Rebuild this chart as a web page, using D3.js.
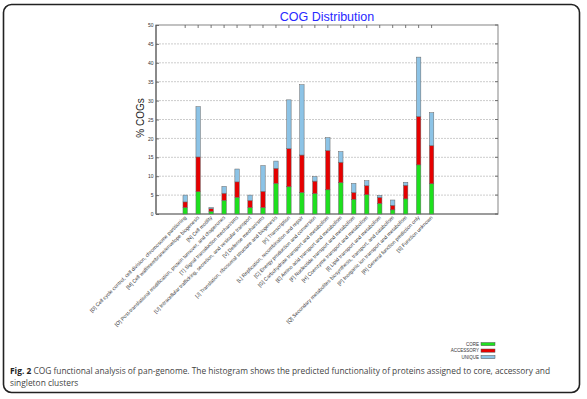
<!DOCTYPE html>
<html>
<head>
<meta charset="utf-8">
<script src="https://cdn.jsdelivr.net/npm/d3@7"></script>
<style>
  body { margin: 0; background: #fff; }
  svg { display: block; }
</style>
</head>
<body>
<div id="chart"></div>
<script>
var categories = [
  "[D] Cell cycle control, cell division, chromosome partitioning",
  "[M] Cell wall/membrane/envelope biogenesis",
  "[N] Cell motility",
  "[O] Post-translational modification, protein turnover, and chaperones",
  "[T] Signal transduction mechanisms",
  "[U] Intracellular trafficking, secretion, and vesicular transport",
  "[V] Defense mechanisms",
  "[J] Translation, ribosomal structure and biogenesis",
  "[K] Transcription",
  "[L] Replication, recombination and repair",
  "[C] Energy production and conversion",
  "[G] Carbohydrate transport and metabolism",
  "[E] Amino acid transport and metabolism",
  "[F] Nucleotide transport and metabolism",
  "[H] Coenzyme transport and metabolism",
  "[I] Lipid transport and metabolism",
  "[Q] Secondary metabolites biosynthesis, transport, and catabolism",
  "[P] Inorganic ion transport and metabolism",
  "[R] General function prediction only",
  "[S] Function unknown"
]
var core      = [1.7, 5.9, 0.7, 3.6, 4.4, 1.7, 1.7, 8.1, 7.2, 5.7, 5.4, 6.4, 8.3, 3.9, 5.1, 2.8, 1.1, 4.0, 13.0, 8.0]
var accessory = [1.5, 9.2, 0.7, 1.9, 4.1, 1.9, 4.3, 4.0, 10.1, 9.9, 3.3, 10.4, 5.4, 1.8, 2.4, 1.6, 1.2, 3.6, 12.8, 10.1]
var unique    = [1.8, 13.3, 0.3, 1.8, 3.4, 1.4, 6.8, 1.9, 12.9, 18.6, 1.2, 3.4, 2.8, 2.4, 1.3, 0.5, 1.4, 0.8, 15.7, 8.7]
var seriesNames = ["CORE", "ACCESSORY", "UNIQUE"]
var yTicks = [0, 5, 10, 15, 20, 25, 30, 35, 40, 45, 50]
var colors = {CORE: "#1ee01e", ACCESSORY: "#e60000", UNIQUE: "#8cc3e6"}

var W = 587, H = 399
var plot = {left: 156, right: 498, top: 25, bottom: 214}

var svg = d3.select("#chart").append("svg")
    .attr("width", W)
    .attr("height", H)

// outer frame
svg.append("rect")
    .attr("x", 3.5).attr("y", 4.5)
    .attr("width", 576).attr("height", 388)
    .attr("rx", 8)
    .attr("fill", "none")
    .attr("stroke", "#222")
    .attr("stroke-width", 1.6)

var x = d3.scaleLinear().domain([-2.25, 24.12]).range([plot.left, plot.right])
var y = d3.scaleLinear().domain([0, 50]).range([plot.bottom, plot.top])

// grid
svg.append("g").selectAll("line")
  .data(yTicks.filter(function(d) { return d > 0 && d < 50 }))
  .enter().append("line")
    .attr("x1", plot.left).attr("x2", plot.right)
    .attr("y1", function(d) { return y(d) }).attr("y2", function(d) { return y(d) })
    .attr("stroke", "#aaa")
    .attr("stroke-width", 0.6)
    .attr("stroke-dasharray", "2,1")

// plot box
svg.append("rect")
    .attr("x", plot.left).attr("y", plot.top)
    .attr("width", plot.right - plot.left).attr("height", plot.bottom - plot.top)
    .attr("fill", "none")
    .attr("stroke", "#999")
    .attr("stroke-width", 1.2)
svg.append("line")
    .attr("x1", plot.left).attr("x2", plot.left)
    .attr("y1", plot.top).attr("y2", plot.bottom)
    .attr("stroke", "#666").attr("stroke-width", 1.2)
svg.append("line")
    .attr("x1", plot.left).attr("x2", plot.right)
    .attr("y1", plot.bottom).attr("y2", plot.bottom)
    .attr("stroke", "#777").attr("stroke-width", 1.2)

// y axis, ticks drawn inward
var yAxis = d3.axisLeft(y).tickValues(yTicks).tickSize(0).tickPadding(2.5)
var gy = svg.append("g")
    .attr("transform", "translate(" + plot.left + ",0)")
    .call(yAxis)
gy.select(".domain").remove()
gy.selectAll("line").attr("stroke", "#555").attr("x2", 3).attr("stroke-width", 0.8)
gy.selectAll("text")
    .attr("font-family", "Liberation Sans, Arial, sans-serif")
    .attr("font-size", 5)
    .attr("fill", "#333")

// right side ticks
svg.append("g").selectAll("line")
  .data(yTicks).enter().append("line")
    .attr("x1", plot.right - 3).attr("x2", plot.right)
    .attr("y1", function(d) { return y(d) }).attr("y2", function(d) { return y(d) })
    .attr("stroke", "#555").attr("stroke-width", 0.8)

// top ticks
var idx = d3.range(categories.length)
svg.append("g").selectAll("line")
  .data(idx).enter().append("line")
    .attr("x1", function(i) { return x(i) }).attr("x2", function(i) { return x(i) })
    .attr("y1", plot.top).attr("y2", plot.top + 3)
    .attr("stroke", "#555").attr("stroke-width", 0.8)

// stacked bars
var rows = idx.map(function(i) {
  return {CORE: core[i], ACCESSORY: accessory[i], UNIQUE: unique[i], i: i}
})
var stack = d3.stack().keys(seriesNames)(rows)
var bw = 4.4
svg.append("g").selectAll("g")
  .data(stack).enter().append("g")
    .attr("fill", function(s) { return colors[s.key] })
  .selectAll("rect")
  .data(function(s) { return s }).enter().append("rect")
    .attr("x", function(d) { return x(d.data.i) - bw / 2 })
    .attr("y", function(d) { return y(d[1]) })
    .attr("width", bw)
    .attr("height", function(d) { return y(d[0]) - y(d[1]) })
    .attr("stroke", "#666")
    .attr("stroke-width", 0.5)

// x labels
svg.append("g").selectAll("text")
  .data(idx).enter().append("text")
    .attr("transform", function(i) { return "translate(" + (x(i) + 1.5) + "," + (plot.bottom + 4) + ") rotate(-45)" })
    .attr("text-anchor", "end")
    .attr("font-family", "Liberation Sans, Arial, sans-serif")
    .attr("font-size", 5.1)
    .attr("fill", "#333")
    .text(function(i) { return categories[i] })

// title
svg.append("text")
    .attr("x", 327).attr("y", 21)
    .attr("text-anchor", "middle")
    .attr("font-family", "Liberation Sans, Arial, sans-serif")
    .attr("font-size", 12.5)
    .attr("fill", "#2828ff")
    .text("COG Distribution")

// y label
svg.append("text")
    .attr("transform", "translate(144,118) rotate(-90)")
    .attr("text-anchor", "middle")
    .attr("font-family", "Liberation Sans, Arial, sans-serif")
    .attr("font-size", 10)
    .attr("fill", "#222")
    .text("% COGs")

// legend
var leg = svg.append("g").selectAll("g")
  .data(seriesNames).enter().append("g")
    .attr("transform", function(d, i) { return "translate(481," + (344 + i * 6.5) + ")" })
leg.append("text")
    .attr("x", -2).attr("y", 1.6)
    .attr("text-anchor", "end")
    .attr("font-family", "Liberation Sans, Arial, sans-serif")
    .attr("font-size", 4.5)
    .attr("fill", "#333")
    .text(function(d) { return d })
leg.append("rect")
    .attr("x", 0).attr("y", -1.5)
    .attr("width", 14).attr("height", 3.2)
    .attr("fill", function(d) { return colors[d] })
    .attr("stroke", "#555")
    .attr("stroke-width", 0.5)

// caption
var cap = svg.append("text")
    .attr("x", 10).attr("y", 374)
    .attr("font-family", "Open Sans, Noto Sans, sans-serif")
    .attr("font-size", 8.4)
    .attr("fill", "#444")
cap.append("tspan").attr("font-weight", "bold").attr("fill", "#222").text("Fig. 2")
cap.append("tspan").text(" COG functional analysis of pan-genome. The histogram shows the predicted functionality of proteins assigned to core, accessory and")
svg.append("text")
    .attr("x", 10).attr("y", 386)
    .attr("font-family", "Open Sans, Noto Sans, sans-serif")
    .attr("font-size", 8.4)
    .attr("fill", "#444")
    .text("singleton clusters")
</script>
</body>
</html>
